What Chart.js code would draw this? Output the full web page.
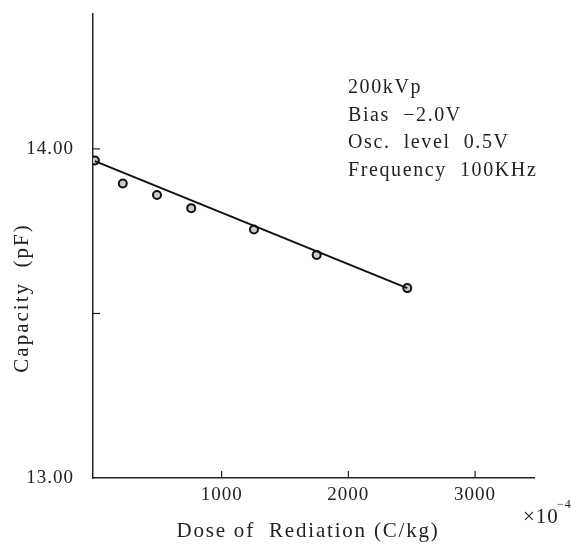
<!DOCTYPE html>
<html>
<head>
<meta charset="utf-8">
<script src="https://cdn.jsdelivr.net/npm/chart.js@4"></script>
<style>
  body { margin: 0; background: #fff; }
</style>
</head>
<body>
<canvas id="chart" width="571" height="545"></canvas>
<script>
// values
let doses = [0, 220, 490, 760, 1255, 1750, 2465];
let capacity = [13.965, 13.895, 13.860, 13.820, 13.755, 13.678, 13.577];
let fitDose = [0, 2465];
let fitCap = [13.963, 13.577];
let xTicks = [1000, 2000, 3000];
let yTicks = [13.0, 13.5, 14.0];
let notes = ["200kVp", "Bias  \u22122.0V", "Osc.  level  0.5V", "Frequency  100KHz"];

let serif = "'Liberation Serif', 'DejaVu Serif', serif";

// wider letter spacing like the printed figure
let spacing = {
    id: 'spacing',
    beforeInit(chart) { chart.ctx.letterSpacing = '1px'; },
    beforeDraw(chart) { chart.ctx.letterSpacing = '1px'; }
};

// tick marks inside the axes + titles + note
let extras = {
    id: 'extras',
    afterDraw(chart) {
        let c = chart.ctx;
        let x = chart.scales.x, y = chart.scales.y;
        c.save();
        c.strokeStyle = '#222';
        c.lineWidth = 1.2;
        xTicks.forEach(v => {
            let px = x.getPixelForValue(v);
            c.beginPath(); c.moveTo(px, y.bottom); c.lineTo(px, y.bottom - 7); c.stroke();
        });
        yTicks.slice(1).forEach(v => {
            let py = y.getPixelForValue(v);
            c.beginPath(); c.moveTo(x.left, py); c.lineTo(x.left + 7, py); c.stroke();
        });

        c.fillStyle = '#222';
        c.textBaseline = 'middle';
        c.letterSpacing = '1.6px';
        c.font = '20px ' + serif;
        notes.forEach((t, i) => c.fillText(t, 348, 88 + i * 27.6));

        c.letterSpacing = '1.8px';
        c.font = '21px ' + serif;
        c.textAlign = 'center';
        c.fillText('Dose of  Rediation (C/kg)', 308, 531);

        c.letterSpacing = '2px';
        c.save();
        c.translate(22, 298);
        c.rotate(-Math.PI / 2);
        c.fillText('Capacity  (pF)', 0, 0);
        c.restore();

        c.letterSpacing = '1px';
        c.textAlign = 'left';
        c.fillText('\u00d710', 523, 517);
        c.font = '12px ' + serif;
        c.fillText('\u22124', 557, 505);
        c.restore();
    }
};

let ctx = document.getElementById('chart');
new Chart(ctx, {
    type: 'scatter',
    data: {
        datasets: [{
            label: 'fit',
            data: fitDose.map((d, i) => ({x: d, y: fitCap[i]})),
            showLine: true,
            borderColor: '#111',
            borderWidth: 2,
            pointRadius: 0
        },
        {
            label: 'measured',
            data: doses.map((d, i) => ({x: d, y: capacity[i]})),
            pointRadius: 4,
            pointBorderWidth: 2,
            pointBorderColor: '#111',
            pointBackgroundColor: '#ccc'
        }]
    },
    options: {
        responsive: false,
        animation: false,
        layout: {padding: {left: 0, top: 14, right: 37, bottom: 0}},
        plugins: {legend: {display: false}, tooltip: {enabled: false}},
        scales: {
            x: {
                type: 'linear',
                min: -15, max: 3465,
                afterBuildTicks: s => { s.ticks = xTicks.map(v => ({value: v})); },
                afterFit: s => { s.height = 67; s.paddingLeft = 0; s.paddingRight = 0; },
                grid: {display: false, drawTicks: false},
                border: {color: '#222', width: 1.5},
                ticks: {
                    padding: 6,
                    color: '#222',
                    font: {family: serif, size: 19},
                    callback: v => String(v)
                }
            },
            y: {
                min: 13.0, max: 14.41,
                afterBuildTicks: s => { s.ticks = yTicks.map(v => ({value: v})); },
                afterFit: s => { s.width = 93; s.paddingTop = 0; s.paddingBottom = 0; },
                grid: {display: false, drawTicks: false},
                border: {color: '#222', width: 1.5},
                ticks: {
                    padding: 19,
                    color: '#222',
                    font: {family: serif, size: 19},
                    callback: v => v === 13.5 ? '' : v.toFixed(2)
                }
            }
        }
    },
    plugins: [spacing, extras]
});
</script>
</body>
</html>
